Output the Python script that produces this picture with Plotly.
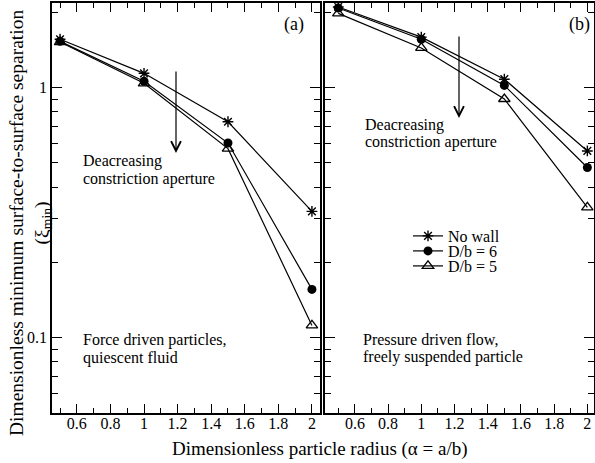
import plotly.graph_objects as go

alpha = [0.5, 1.0, 1.5, 2.0]

# Panel (a): force driven particles, quiescent fluid
a_nowall = [1.56, 1.14, 0.73, 0.32]
a_db6 = [1.53, 1.06, 0.60, 0.156]
a_db5 = [1.52, 1.04, 0.57, 0.112]

# Panel (b): pressure driven flow, freely suspended particle
b_nowall = [2.10, 1.59, 1.08, 0.558]
b_db6 = [2.08, 1.56, 1.02, 0.479]
b_db5 = [1.98, 1.44, 0.90, 0.332]

series_names = ["No wall", "D/b = 6", "D/b = 5"]
x_major = [0.6, 0.8, 1.0, 1.2, 1.4, 1.6, 1.8, 2.0]
x_major_text = ["0.6", "0.8", "1", "1.2", "1.4", "1.6", "1.8", "2"]
x_minor = [0.5, 0.7, 0.9, 1.1, 1.3, 1.5, 1.7, 1.9]
y_major = [0.1, 1.0]
y_major_text = ["0.1", "1"]
y_minor = [0.06, 0.07, 0.08, 0.09, 0.2, 0.3, 0.4, 0.5, 0.6, 0.7, 0.8, 0.9, 2.0]

FONT = "Liberation Serif"
styles = [
    dict(symbol="asterisk-open", size=9, color="black", line=dict(width=1.4, color="black")),
    dict(symbol="circle", size=9, color="black", line=dict(width=0, color="black")),
    dict(symbol="triangle-up-open", size=10, color="black", line=dict(width=1.3, color="black")),
]
legend_ids = ["legend", "legend2", "legend3"]
legend_y_px = [236, 251, 266]

fig = go.Figure()
for i, (ya, yb) in enumerate(zip([a_nowall, a_db6, a_db5], [b_nowall, b_db6, b_db5])):
    fig.add_trace(go.Scatter(x=alpha, y=ya, mode="lines+markers", name=series_names[i],
                             line=dict(color="black", width=1.2), marker=styles[i],
                             xaxis="x", yaxis="y", showlegend=False, cliponaxis=False))
    fig.add_trace(go.Scatter(x=alpha, y=yb, mode="lines+markers", name=series_names[i],
                             line=dict(color="black", width=1.2), marker=styles[i],
                             xaxis="x2", yaxis="y2", showlegend=True, cliponaxis=False,
                             legend=legend_ids[i]))

common_x = dict(
    showline=True, linecolor="black", linewidth=1.5, mirror="ticks",
    ticks="inside", ticklen=9, tickwidth=1.2, tickcolor="black",
    tickmode="array", tickvals=x_major, ticktext=x_major_text,
    minor=dict(ticks="inside", ticklen=5, tickwidth=1.2, tickcolor="black",
               tickmode="array", tickvals=x_minor),
    showgrid=False, zeroline=False, ticklabelstandoff=-5,
    tickfont=dict(family=FONT, size=16, color="black"),
)
common_y = dict(
    type="log", range=[-1.301, 0.338],
    showline=True, linecolor="black", linewidth=1.5, mirror="ticks",
    ticks="inside", ticklen=10, tickwidth=1.2, tickcolor="black",
    tickmode="array", tickvals=y_major, ticktext=y_major_text,
    minor=dict(ticks="inside", ticklen=6, tickwidth=1.2, tickcolor="black",
               tickmode="array", tickvals=y_minor),
    showgrid=False, zeroline=False,
    tickfont=dict(family=FONT, size=16, color="black"),
)

legend_common = dict(xanchor="left", yanchor="middle", bgcolor="rgba(0,0,0,0)",
                     font=dict(family=FONT, size=16, color="black"), itemwidth=30)

fig.update_layout(
    width=595, height=463,
    margin=dict(l=0, r=0, t=0, b=0),
    paper_bgcolor="white", plot_bgcolor="white",
    font=dict(family=FONT, size=16, color="black"),
    xaxis=dict(common_x, domain=[52/595, 320/595], range=[0.452, 2.048], anchor="y"),
    yaxis=dict(common_y, domain=[1-413/463, 1-3/463], anchor="x"),
    xaxis2=dict(common_x, domain=[325/595, 594/595], range=[0.42, 2.04], anchor="y2"),
    yaxis2=dict(common_y, domain=[1-413/463, 1-3/463], anchor="x2", showticklabels=False),
    legend=dict(legend_common, x=408/595, y=1-legend_y_px[0]/463),
    legend2=dict(legend_common, x=408/595, y=1-legend_y_px[1]/463),
    legend3=dict(legend_common, x=408/595, y=1-legend_y_px[2]/463),
    showlegend=True,
)

def txt(x, y, s, size=16, xanchor="left"):
    fig.add_annotation(x=x/595, y=1-y/463, xref="paper", yref="paper", text=s,
                       showarrow=False, xanchor=xanchor, yanchor="middle",
                       font=dict(family=FONT, size=size, color="black"))

txt(81, 161, "Deacreasing")
txt(81, 179, "constriction aperture")
txt(363, 125, "Deacreasing")
txt(363, 142, "constriction aperture")
txt(81, 340, "Force driven particles,")
txt(81, 358, "quiescent fluid")
txt(361, 339, "Pressure driven flow,")
txt(361, 357, "freely suspended particle")
txt(294, 25, "(a)", size=18, xanchor="center")
txt(579, 25, "(b)", size=18, xanchor="center")

# arrows
for (xa, y0, y1) in [(176, 70, 153), (459, 35, 118)]:
    fig.add_annotation(x=xa/595, y=1-y1/463, ax=0, ay=-(y1-y0),
                       xref="paper", yref="paper", axref="pixel", ayref="pixel",
                       text="", showarrow=True, arrowhead=5, arrowsize=1.6,
                       arrowwidth=1.2, arrowcolor="black")

# axis titles
fig.add_annotation(x=320/595, y=1-449/463, xref="paper", yref="paper",
                   text="Dimensionless particle radius (α = a/b)", showarrow=False,
                   xanchor="center", yanchor="middle",
                   font=dict(family=FONT, size=19, color="black"))
fig.add_annotation(x=30/595, y=1-223/463, xref="paper", yref="paper",
                   text="Dimensionless minimum surface-to-surface separation<br>(ξ<sub>min</sub>)",
                   showarrow=False, textangle=-90, xanchor="center", yanchor="middle",
                   font=dict(family=FONT, size=19.5, color="black"))

fig.write_html("out.html", config={"displayModeBar": False},
               post_script="document.body.style.margin='0';")
